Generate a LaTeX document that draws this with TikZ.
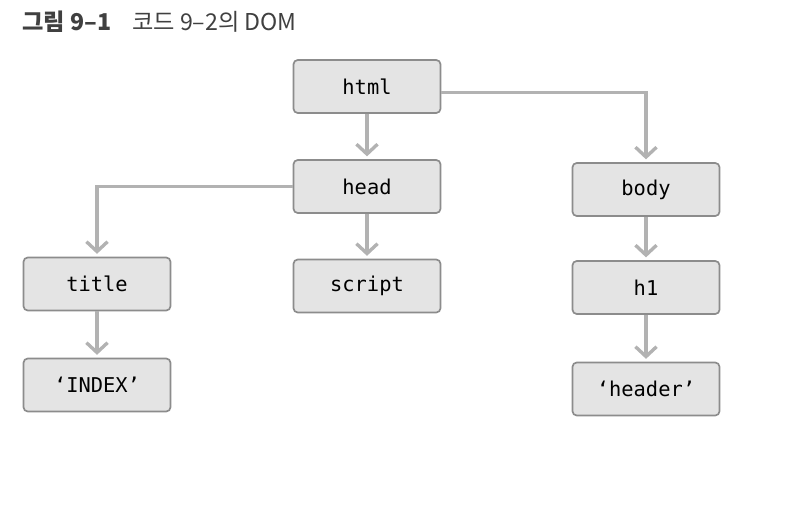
\documentclass[tikz,border=0pt]{standalone}
\usepackage{fontspec}
\setmonofont{DejaVu Sans Mono}
\newfontfamily\kofont{Noto Sans CJK KR}
\usetikzlibrary{arrows.meta}
\definecolor{boxfill}{RGB}{228,228,228}
\definecolor{boxline}{RGB}{140,140,140}
\definecolor{linkgray}{RGB}{178,178,178}
\tikzset{
  domnode/.style={draw=boxline, line width=1.2pt, fill=boxfill, rounded corners=3pt,
    minimum width=147*0.025cm, minimum height=53*0.025cm, inner sep=0pt,
    font=\ttfamily\fontsize{14.5}{16}\selectfont},
  link/.style={draw=linkgray, line width=2.2pt,
    -{Straight Barb[length=7pt, width=15pt, line width=2.4pt]}, shorten >=2pt},
}
\begin{document}
\begin{tikzpicture}[x=0.025cm, y=-0.025cm]
\useasboundingbox (0,0) rectangle (804,506);

% caption
\node[anchor=west, inner sep=0pt, font=\kofont\fontsize{16.5}{18}\selectfont, text=black!75] (cap) at (22,22)
  {\textbf{그림 9–1}\hspace{0.9em}코드 9–2의 DOM};

% nodes
\node[domnode] (html)   at (367,86.5) {html};
\node[domnode] (head)   at (367,186.5) {head};
\node[domnode] (body)   at (646,189.5) {body};
\node[domnode] (title)  at (97,284) {title};
\node[domnode] (script) at (367,286) {script};
\node[domnode] (h1)     at (646,287.5) {h1};
\node[domnode] (index)  at (97,385) {‘INDEX’};
\node[domnode] (header) at (646,389) {‘header’};

% links
\draw[link] (html) -- (head);
\draw[link] ([yshift=-0.14cm]html.east) -| (body);
\draw[link] (head.west) -| (title);
\draw[link] (head) -- (script);
\draw[link] (title) -- (index);
\draw[link] (body) -- (h1);
\draw[link] (h1) -- (header);

\end{tikzpicture}
\end{document}
